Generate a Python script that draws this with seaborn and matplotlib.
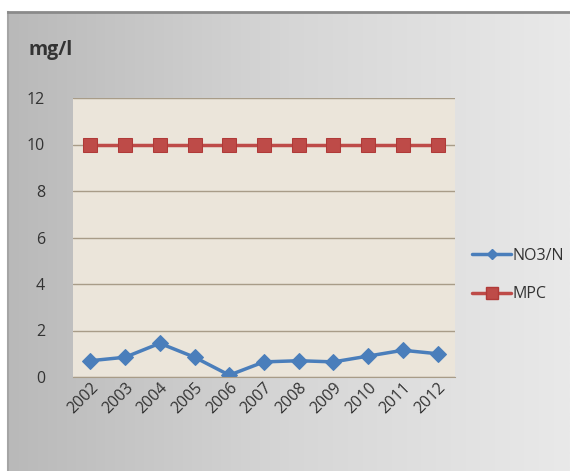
import numpy as np
import pandas as pd
import matplotlib
matplotlib.use("Agg")
import matplotlib.pyplot as plt
import seaborn as sns
from matplotlib.lines import Line2D

years = ['2002', '2003', '2004', '2005', '2006', '2007', '2008', '2009', '2010', '2011', '2012']
no3 = [0.7, 0.85, 1.45, 0.85, 0.08, 0.65, 0.7, 0.65, 0.9, 1.15, 1.0]
mpc = [10, 10, 10, 10, 10, 10, 10, 10, 10, 10, 10]

df = pd.DataFrame({'year': years, 'NO3/N': no3, 'MPC': mpc})

sns.set_style('white')
plt.rcParams['font.family'] = ['Open Sans', 'DejaVu Sans']

fig = plt.figure(figsize=(5.7, 4.71), dpi=100)
fig.patch.set_facecolor('white')

# grey gradient frame behind everything
bg = fig.add_axes([8/570, 0, 1 - 8/570, 1 - 12/471])
grad = np.linspace(0, 1, 256).reshape(1, -1)
bg.imshow(grad, aspect='auto', cmap=matplotlib.colors.LinearSegmentedColormap.from_list(
    'g', ['#b9b9b9', '#d6d6d6', '#e9e9e9']), extent=[0, 1, 0, 1])
bg.set_xticks([])
bg.set_yticks([])
for s in bg.spines.values():
    s.set_visible(False)
bg.spines['top'].set_visible(True)
bg.spines['top'].set_color('#8a8a8a')
bg.spines['top'].set_linewidth(2)
bg.spines['left'].set_visible(True)
bg.spines['left'].set_color('#a5a5a5')
bg.spines['left'].set_linewidth(1.5)

ax = fig.add_axes([73/570, 94/471, 382/570, 279/471])
ax.set_facecolor('#ebe5da')

sns.lineplot(data=df, x='year', y='NO3/N', ax=ax, color='#4a7ebb', marker='D',
             markersize=8, linewidth=2.5, markeredgecolor='#4a7ebb')
sns.lineplot(data=df, x='year', y='MPC', ax=ax, color='#be4b48', marker='s',
             markersize=10, linewidth=2.5, markeredgecolor='#b03a38')

ax.set_ylim(0, 12)
ax.set_xlim(-0.5, len(years) - 0.5)
ax.set_yticks(range(0, 13, 2))
ax.yaxis.grid(True, color='#a89c88', linewidth=1)
ax.set_axisbelow(True)
for s in ax.spines.values():
    s.set_visible(False)
ax.spines['bottom'].set_visible(True)
ax.spines['bottom'].set_color('#a89c88')
ax.set_xlabel('')
ax.set_ylabel('')
ax.tick_params(axis='y', labelsize=11.5, labelcolor='#333333', length=0, pad=20)
ax.tick_params(axis='x', labelsize=11.5, labelcolor='#333333', length=0, rotation=45, pad=2)
for lab in ax.get_xticklabels():
    lab.set_ha('right')
    lab.set_rotation_mode('anchor')

h = [Line2D([], [], color='#4a7ebb', marker='D', markersize=5, linewidth=2.5),
     Line2D([], [], color='#be4b48', marker='s', markersize=8, linewidth=2.5,
            markeredgecolor='#b03a38')]
fig.legend(h, ['NO3/N', 'MPC'], loc='center left', bbox_to_anchor=(458/570, 1 - 275/471),
           frameon=False, fontsize=11.5, labelspacing=1.4, handlelength=2.4,
           handletextpad=0.1, labelcolor='#333333')

fig.text(28/570, 1 - 50/471, 'mg/l', fontsize=14, fontweight='bold', color='#333333', va='center')

fig.savefig('out.png', dpi=100)
